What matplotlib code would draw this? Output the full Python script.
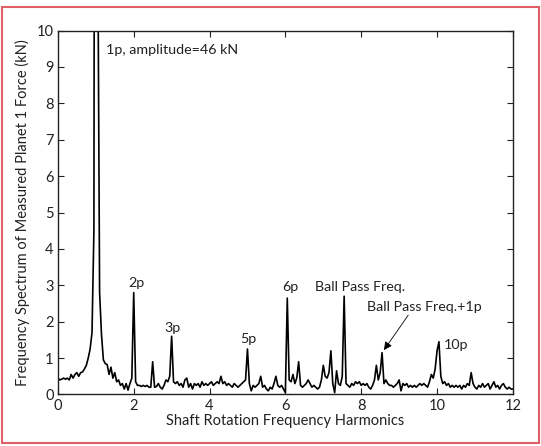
import numpy as np
import matplotlib
matplotlib.use("Agg")
import matplotlib.pyplot as plt
from matplotlib.patches import Rectangle

plt.rcParams['font.family'] = ['Lato', 'DejaVu Sans']

# Spectrum sampled every 0.05 harmonic, from 0 to 12
freq_step = 0.05
amplitude = [
    # 0.00 - 0.95
    0.45, 0.40, 0.42, 0.45, 0.42, 0.45, 0.40, 0.55, 0.45, 0.55,
    0.60, 0.50, 0.60, 0.62, 0.70, 0.80, 1.00, 1.25, 1.70, 4.50,
    # 1.00 - 1.95
    46.0, 13.0, 2.80, 1.65, 0.95, 0.85, 0.82, 0.55, 0.75, 0.45,
    0.60, 0.35, 0.40, 0.25, 0.30, 0.15, 0.30, 0.12, 0.30, 0.45,
    # 2.00 - 2.95
    2.80, 0.35, 0.25, 0.25, 0.22, 0.25, 0.22, 0.25, 0.20, 0.20,
    0.90, 0.20, 0.22, 0.30, 0.20, 0.15, 0.25, 0.40, 0.35, 0.50,
    # 3.00 - 3.95
    1.60, 0.35, 0.30, 0.35, 0.25, 0.30, 0.20, 0.40, 0.45, 0.20,
    0.30, 0.15, 0.30, 0.25, 0.30, 0.20, 0.35, 0.25, 0.30, 0.25,
    # 4.00 - 4.95
    0.30, 0.35, 0.25, 0.30, 0.35, 0.30, 0.50, 0.30, 0.35, 0.25,
    0.30, 0.25, 0.20, 0.30, 0.25, 0.20, 0.25, 0.30, 0.35, 0.40,
    # 5.00 - 5.95
    1.25, 0.30, 0.10, 0.25, 0.20, 0.25, 0.30, 0.50, 0.20, 0.25,
    0.15, 0.10, 0.20, 0.15, 0.30, 0.50, 0.25, 0.20, 0.25, 0.15,
    # 6.00 - 6.95
    0.05, 2.65, 0.40, 0.35, 0.55, 0.30, 0.45, 0.90, 0.25, 0.20,
    0.25, 0.30, 0.40, 0.30, 0.20, 0.25, 0.20, 0.15, 0.20, 0.40,
    # 7.00 - 7.95
    0.80, 0.50, 0.45, 0.60, 1.20, 0.30, 0.05, 0.65, 0.30, 0.25,
    0.50, 2.70, 0.30, 0.25, 0.20, 0.30, 0.25, 0.35, 0.30, 0.35,
    # 8.00 - 8.95
    0.25, 0.30, 0.25, 0.30, 0.20, 0.15, 0.25, 0.40, 0.80, 0.40,
    0.60, 1.15, 0.30, 0.40, 0.30, 0.25, 0.25, 0.20, 0.25, 0.30,
    # 9.00 - 9.95
    0.40, 0.10, 0.30, 0.25, 0.30, 0.20, 0.25, 0.20, 0.25, 0.20,
    0.25, 0.30, 0.25, 0.30, 0.25, 0.20, 0.35, 0.55, 0.45, 0.70,
    # 10.00 - 10.95
    1.20, 1.45, 0.50, 0.30, 0.35, 0.25, 0.30, 0.20, 0.25, 0.20,
    0.25, 0.20, 0.25, 0.15, 0.25, 0.20, 0.30, 0.25, 0.60, 0.30,
    # 11.00 - 11.95
    0.20, 0.15, 0.25, 0.20, 0.30, 0.20, 0.25, 0.30, 0.15, 0.25,
    0.35, 0.20, 0.25, 0.15, 0.25, 0.30, 0.20, 0.15, 0.20, 0.15,
    # 12.00
    0.15,
]
freq = np.round(np.arange(len(amplitude)) * freq_step, 2)

x_ticks = [0, 2, 4, 6, 8, 10, 12]
y_ticks = [0, 1, 2, 3, 4, 5, 6, 7, 8, 9, 10]

peak_labels = ["2p", "3p", "5p", "6p", "10p"]
peak_label_x = [2.08, 3.02, 5.02, 6.12, 10.17]
peak_label_y = [3.05, 1.82, 1.52, 2.94, 1.36]

fig = plt.figure(figsize=(5.41, 4.46), dpi=100)
ax = fig.add_axes([0.107, 0.1155, 0.841, 0.816])

ax.plot(freq, amplitude, color='black', lw=1.2)
ax.set_xlim(0, 12)
ax.set_ylim(0, 10)
ax.set_xticks(x_ticks)
ax.set_yticks(y_ticks)
ax.tick_params(direction='in', top=True, right=True, length=4, width=0.8,
               labelsize=10.5, pad=3, colors='#222222')
for s in ax.spines.values():
    s.set_linewidth(1.0)
    s.set_color('#222222')

ax.set_xlabel("Shaft Rotation Frequency Harmonics", fontsize=10.5, labelpad=1, color='#222222')
ax.set_ylabel("Frequency Spectrum of Measured Planet 1 Force (kN)", fontsize=10.5,
              labelpad=5, color='#222222')

ann_size = 10.3
ax.text(1.27, 9.46, "1p, amplitude=46 kN", fontsize=ann_size, ha='left', va='center', color='#222222')
for lab, lx, ly in zip(peak_labels, peak_label_x, peak_label_y):
    ha = 'left' if lab == "10p" else 'center'
    ax.text(lx, ly, lab, fontsize=ann_size, ha=ha, va='center', color='#222222')
ax.text(6.78, 2.94, "Ball Pass Freq.", fontsize=ann_size, ha='left', va='center', color='#222222')
ax.text(8.16, 2.40, "Ball Pass Freq.+1p", fontsize=ann_size, ha='left', va='center', color='#222222')
ax.annotate("", xy=(8.6, 1.22), xytext=(9.24, 2.18),
            arrowprops=dict(arrowstyle='-|>', color='black', lw=0.6,
                            mutation_scale=12, shrinkA=0, shrinkB=0))

fig.patches.append(Rectangle((2 / 541, 1 - 443 / 446), 537 / 541, 436 / 446,
                             transform=fig.transFigure, fill=False,
                             edgecolor='#e06068', lw=1.5))

fig.savefig("out.png", dpi=100)
